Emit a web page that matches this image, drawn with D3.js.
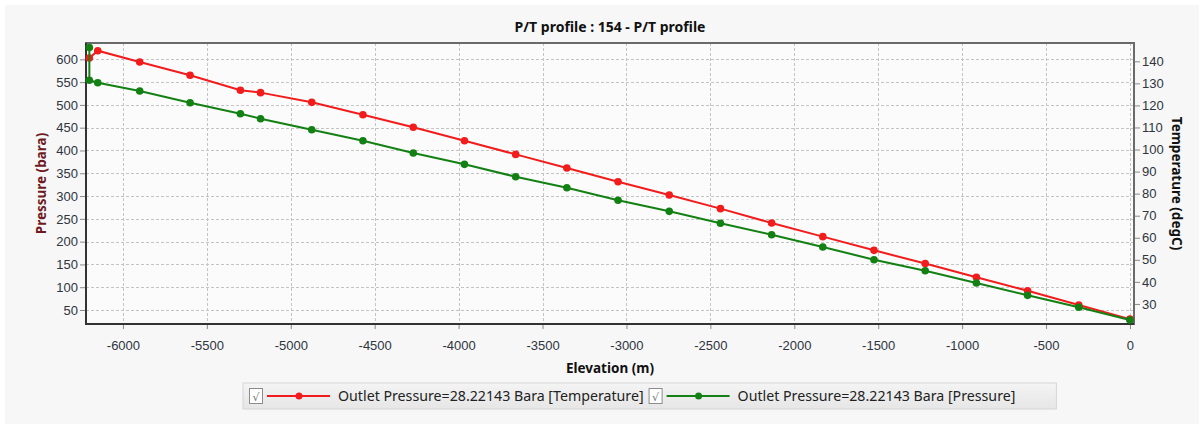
<!DOCTYPE html>
<html>
<head>
<meta charset="utf-8">
<script src="https://cdn.jsdelivr.net/npm/d3@7"></script>
<style>
  body { margin: 0; background: #fff; }
  svg { display: block; font-family: "Segoe UI", "Noto Sans", "DejaVu Sans", sans-serif; }
</style>
</head>
<body>
<div id="chart"></div>
<script>
// Elevation of each calculation node (m)
const elevation = [-6200, -6150, -5900, -5600, -5300, -5180, -4875, -4570, -4270, -3965, -3660,
    -3355, -3050, -2745, -2440, -2135, -1830, -1525, -1220, -915, -610, -305, 0];
// Temperature along the profile (degC)
const temperature = [141.5, 144.8, 139.7, 133.7, 126.9, 125.8, 121.4, 115.8, 110.1, 104.0, 97.8,
    91.6, 85.4, 79.4, 73.2, 66.7, 60.5, 54.3, 48.3, 42.1, 36.0, 29.5, 23.1];
// Pressure series has an extra node at the bottom (bara)
const pressureElevation = [-6200, -6200, -6150, -5900, -5600, -5300, -5180, -4875, -4570, -4270, -3965, -3660,
    -3355, -3050, -2745, -2440, -2135, -1830, -1525, -1220, -915, -610, -305, 0];
const pressure = [626, 554, 548.7, 530.5, 504.8, 480.7, 469.7, 445.6, 421.4, 394.4, 369.6, 342.4,
    318.3, 290.7, 266.5, 240.2, 215.2, 188.2, 160.4, 136.2, 109.2, 82.2, 55.9, 28.22];

const elevationTicks = [-6000, -5500, -5000, -4500, -4000, -3500, -3000, -2500, -2000, -1500, -1000, -500, 0];
const pressureTicks = [50, 100, 150, 200, 250, 300, 350, 400, 450, 500, 550, 600];
const temperatureTicks = [30, 40, 50, 60, 70, 80, 90, 100, 110, 120, 130, 140];

const seriesNames = ["Outlet Pressure=28.22143 Bara [Temperature]", "Outlet Pressure=28.22143 Bara [Pressure]"];
const seriesColors = ["#f21c1c", "#138013"];

let width = 1203, height = 427;
let plot = { left: 86, right: 1134, top: 43, bottom: 324 };

let svg = d3.select("#chart")
    .append("svg")
    .attr("width", width)
    .attr("height", height);

// Panel background
svg.append("rect")
    .attr("x", 5).attr("y", 5)
    .attr("width", width - 9).attr("height", height - 8)
    .attr("fill", "#f7f7f7");

let x = d3.scaleLinear().domain([-6220, 24]).range([plot.left, plot.right]);
let yP = d3.scaleLinear().domain([19.3, 635.8]).range([plot.bottom, plot.top]);
let yT = d3.scaleLinear().domain([20.9, 148.3]).range([plot.bottom, plot.top]);

// Plot background
svg.append("rect")
    .attr("x", plot.left).attr("y", plot.top)
    .attr("width", plot.right - plot.left).attr("height", plot.bottom - plot.top)
    .attr("fill", "#fbfbfb");

// Grid lines
let grid = svg.append("g").attr("stroke", "#c4c4c4").attr("stroke-width", 1).attr("stroke-dasharray", "3,2");
grid.selectAll(".gx")
    .data(elevationTicks)
    .enter().append("line")
    .attr("x1", d => Math.round(x(d)) + 0.5).attr("x2", d => Math.round(x(d)) + 0.5)
    .attr("y1", plot.top).attr("y2", plot.bottom);
grid.selectAll(".gy")
    .data(pressureTicks)
    .enter().append("line")
    .attr("x1", plot.left).attr("x2", plot.right)
    .attr("y1", d => Math.round(yP(d)) + 0.5).attr("y2", d => Math.round(yP(d)) + 0.5);

// Axes
function styleAxis(g) {
    g.select(".domain").remove();
    g.selectAll(".tick line").attr("stroke", "#8a8a8a");
    g.selectAll(".tick text").attr("fill", "#2e3440").attr("font-size", "13px");
}

svg.append("g")
    .attr("transform", `translate(${plot.left},0)`)
    .call(d3.axisLeft(yP).tickValues(pressureTicks).tickSize(6).tickPadding(2))
    .call(styleAxis);

svg.append("g")
    .attr("transform", `translate(${plot.right},0)`)
    .call(d3.axisRight(yT).tickValues(temperatureTicks).tickSize(6).tickPadding(2))
    .call(styleAxis);

svg.append("g")
    .attr("transform", `translate(0,${plot.bottom})`)
    .call(d3.axisBottom(x).tickValues(elevationTicks).tickSize(5).tickPadding(12)
        .tickFormat(d => d === 0 ? "0" : "-" + Math.abs(d)))
    .call(styleAxis);

// Frame
svg.append("rect")
    .attr("x", plot.left).attr("y", plot.top)
    .attr("width", plot.right - plot.left).attr("height", plot.bottom - plot.top)
    .attr("fill", "none").attr("stroke", "#6a6a6a").attr("stroke-width", 2);
svg.append("path")
    .attr("d", `M${plot.left},${plot.top}V${plot.bottom}H${plot.right}`)
    .attr("fill", "none").attr("stroke", "#333").attr("stroke-width", 2);

// Series
let tempLine = d3.line().x((d, i) => x(elevation[i])).y(d => yT(d));
let presLine = d3.line().x((d, i) => x(pressureElevation[i])).y(d => yP(d));

svg.append("path")
    .datum(temperature)
    .attr("d", tempLine)
    .attr("fill", "none").attr("stroke", seriesColors[0]).attr("stroke-width", 2);
svg.selectAll(".tdot")
    .data(temperature)
    .enter().append("circle")
    .attr("cx", (d, i) => x(elevation[i]))
    .attr("cy", d => yT(d))
    .attr("r", 3.8)
    .attr("fill", seriesColors[0]);

svg.append("path")
    .datum(pressure)
    .attr("d", presLine)
    .attr("fill", "none").attr("stroke", seriesColors[1]).attr("stroke-width", 2);
svg.selectAll(".pdot")
    .data(pressure)
    .enter().append("circle")
    .attr("cx", (d, i) => x(pressureElevation[i]))
    .attr("cy", d => yP(d))
    .attr("r", 3.8)
    .attr("fill", seriesColors[1]);

// Titles
svg.append("text")
    .attr("x", (plot.left + plot.right) / 2)
    .attr("y", 32)
    .attr("text-anchor", "middle")
    .attr("font-size", "14px")
    .attr("font-weight", "bold")
    .attr("fill", "#111")
    .text("P/T profile : 154 - P/T profile");

svg.append("text")
    .attr("x", (plot.left + plot.right) / 2)
    .attr("y", 373)
    .attr("text-anchor", "middle")
    .attr("font-size", "13.5px")
    .attr("font-weight", "bold")
    .attr("fill", "#111")
    .text("Elevation (m)");

svg.append("text")
    .attr("transform", `translate(46,${(plot.top + plot.bottom) / 2}) rotate(-90)`)
    .attr("text-anchor", "middle")
    .attr("font-size", "13.5px")
    .attr("font-weight", "bold")
    .attr("fill", "#6e1a22")
    .text("Pressure (bara)");

svg.append("text")
    .attr("transform", `translate(1172,${(plot.top + plot.bottom) / 2}) rotate(90)`)
    .attr("text-anchor", "middle")
    .attr("font-size", "13.5px")
    .attr("font-weight", "bold")
    .attr("fill", "#111")
    .text("Temperature (degC)");

// Legend
let defs = svg.append("defs");
let grad = defs.append("linearGradient").attr("id", "legendBg").attr("x1", 0).attr("y1", 0).attr("x2", 0).attr("y2", 1);
grad.append("stop").attr("offset", "0%").attr("stop-color", "#f4f4f4");
grad.append("stop").attr("offset", "100%").attr("stop-color", "#e6e6e6");

let legend = svg.append("g");
let legendBox = legend.append("rect")
    .attr("x", 243).attr("y", 383)
    .attr("height", 26)
    .attr("fill", "url(#legendBg)")
    .attr("stroke", "#d6d6d6");

let lx = 249;
seriesNames.forEach((name, i) => {
    legend.append("rect")
        .attr("x", lx + 0.5).attr("y", 388.5)
        .attr("width", 13).attr("height", 15)
        .attr("fill", "#fff").attr("stroke", "#8c8c8c");
    legend.append("text")
        .attr("x", lx + 7).attr("y", 401)
        .attr("text-anchor", "middle")
        .attr("font-size", "11px")
        .attr("fill", "#777")
        .text("√");
    legend.append("line")
        .attr("x1", lx + 18).attr("x2", lx + 81)
        .attr("y1", 396).attr("y2", 396)
        .attr("stroke", seriesColors[i]).attr("stroke-width", 2);
    legend.append("circle")
        .attr("cx", lx + 50).attr("cy", 396).attr("r", 3.5)
        .attr("fill", seriesColors[i]);
    let t = legend.append("text")
        .attr("x", lx + 89).attr("y", 400.5)
        .attr("font-size", "14.2px")
        .attr("fill", "#222")
        .text(name);
    lx = lx + 89 + t.node().getComputedTextLength() + 5;
});
legendBox.attr("width", lx + 36 - 243);
</script>
</body>
</html>
